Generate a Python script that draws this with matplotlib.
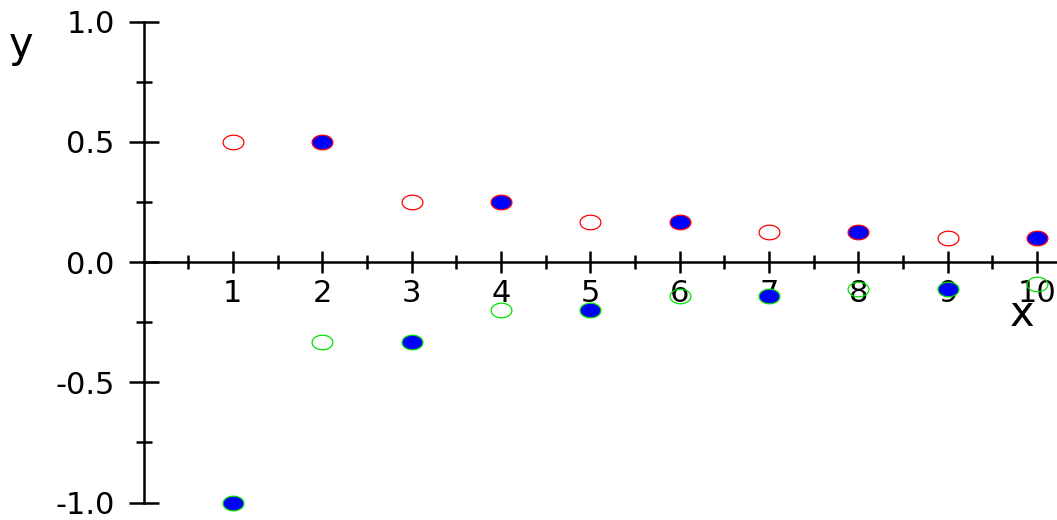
import numpy as np
import matplotlib
matplotlib.use("Agg")
import matplotlib.pyplot as plt
from matplotlib.path import Path
from matplotlib.ticker import FixedLocator

plt.rcParams["axes.unicode_minus"] = False
plt.rcParams["font.family"] = "DejaVu Sans"

# red series: open at odd n, filled at even n
red_open_x = [1, 3, 5, 7, 9]
red_open_y = [0.5, 0.25, 0.167, 0.125, 0.1]
red_fill_x = [2, 4, 6, 8, 10]
red_fill_y = [0.5, 0.25, 0.167, 0.125, 0.1]

# green series: filled at odd n, open at even n
green_open_x = [2, 4, 6, 8, 10]
green_open_y = [-0.333, -0.2, -0.143, -0.111, -0.091]
green_fill_x = [1, 3, 5, 7, 9]
green_fill_y = [-1.0, -0.333, -0.2, -0.143, -0.111]

x_ticks = [1, 2, 3, 4, 5, 6, 7, 8, 9, 10]
x_minor = [0.5, 1.5, 2.5, 3.5, 4.5, 5.5, 6.5, 7.5, 8.5, 9.5]
y_ticks = [-1.0, -0.5, 0.0, 0.5, 1.0]
y_minor = [-0.75, -0.25, 0.25, 0.75]

# wide ellipse marker
t = np.linspace(0, 2 * np.pi, 60)
ell = Path(np.column_stack([np.cos(t), 0.7 * np.sin(t)]), closed=True)

fig = plt.figure(figsize=(10.57, 5.2), dpi=100)
ax = fig.add_axes([0, 0, 1, 1])

px_x = 89.35
px_y = 240.5
ax.set_xlim(-143.5 / px_x, (1057 - 143.5) / px_x)
ax.set_ylim(-(520 - 262) / px_y, 262 / px_y)

ax.spines["left"].set_position(("data", 0))
ax.spines["bottom"].set_position(("data", 0))
ax.spines["right"].set_visible(False)
ax.spines["top"].set_visible(False)
ax.spines["left"].set_bounds(-1.0, 1.0)
ax.spines["bottom"].set_bounds(0, ax.get_xlim()[1])
for s in ("left", "bottom"):
    ax.spines[s].set_linewidth(1.8)

ax.xaxis.set_major_locator(FixedLocator(x_ticks))
ax.xaxis.set_minor_locator(FixedLocator(x_minor))
ax.yaxis.set_major_locator(FixedLocator(y_ticks))
ax.yaxis.set_minor_locator(FixedLocator(y_minor))
ax.set_yticklabels([f"{v:.1f}" for v in y_ticks])

ax.tick_params(axis="x", which="major", direction="inout", length=16.5, width=1.8,
               labelsize=22, pad=4)
ax.tick_params(axis="x", which="minor", direction="inout", length=9.5, width=1.8)
ax.tick_params(axis="y", which="major", direction="inout", length=21.6, width=1.8,
               labelsize=22, pad=10)
ax.tick_params(axis="y", which="minor", direction="inout", length=12, width=1.8)

ms = 15
ax.plot(red_open_x, red_open_y, ls="none", marker=ell, ms=ms, mfc="white",
        mec="red", mew=0.9, clip_on=False, zorder=3)
ax.plot(red_fill_x, red_fill_y, ls="none", marker=ell, ms=ms, mfc="blue",
        mec="red", mew=0.9, clip_on=False, zorder=3)
ax.plot(green_open_x, green_open_y, ls="none", marker=ell, ms=ms, mfc="none",
        mec="#00e000", mew=0.9, clip_on=False, zorder=3)
ax.plot(green_fill_x, green_fill_y, ls="none", marker=ell, ms=ms, mfc="blue",
        mec="#00e000", mew=0.9, clip_on=False, zorder=3)

fig.text(21 / 1057, 1 - 45 / 520, "y", fontsize=30, ha="center", va="center")
fig.text(1022 / 1057, 1 - 314 / 520, "x", fontsize=30, ha="center", va="center")

fig.savefig("out.png", dpi=100)
